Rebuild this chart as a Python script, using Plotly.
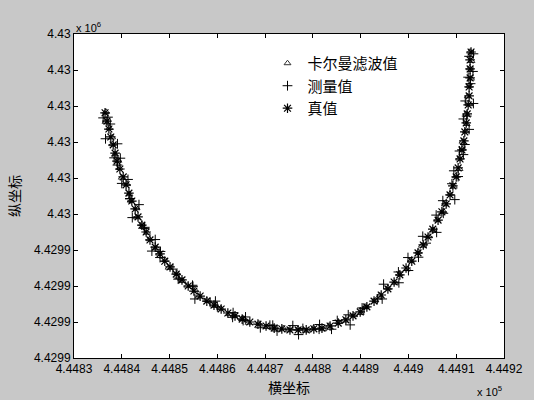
import plotly.graph_objects as go

# Truth values
true_x = [444836.5, 444836.9, 444837.3, 444837.7, 444838.2, 444838.6, 444839.0, 444839.6, 444840.3, 444840.9,
          444841.5, 444842.1, 444842.8, 444843.4, 444844.2, 444845.1, 444845.9, 444847.0, 444848.0, 444849.0,
          444850.1, 444851.4, 444852.6, 444853.9, 444855.1, 444856.4, 444857.8, 444859.3, 444860.8, 444862.2,
          444863.7, 444865.2, 444866.8, 444868.5, 444870.2, 444871.9, 444873.5, 444875.2, 444876.9, 444878.6,
          444880.2, 444881.9, 444883.6, 444885.3, 444886.9, 444888.4, 444889.9, 444891.3, 444892.8, 444894.3,
          444895.7, 444897.0, 444898.2, 444899.5, 444900.7, 444902.0, 444903.1, 444904.1, 444905.1, 444906.2,
          444907.0, 444907.9, 444908.7, 444909.3, 444910.0, 444910.4, 444910.8, 444911.2, 444911.6, 444911.8,
          444912.1, 444912.3, 444912.5, 444912.7, 444912.7, 444912.9, 444912.9, 444912.9, 444913.1]
true_y = [4429978.1, 4429975.8, 4429973.6, 4429971.4, 4429969.2, 4429966.9, 4429964.7, 4429962.5, 4429960.3, 4429958.1,
          4429955.8, 4429953.6, 4429951.4, 4429949.2, 4429946.9, 4429945.0, 4429942.8, 4429940.8, 4429938.9, 4429936.9,
          4429935.3, 4429933.3, 4429931.7, 4429930.0, 4429928.6, 4429927.2, 4429925.8, 4429924.7, 4429923.6, 4429922.5,
          4429921.7, 4429920.8, 4429920.0, 4429919.4, 4429918.9, 4429918.3, 4429918.1, 4429917.8, 4429917.8, 4429917.8,
          4429918.1, 4429918.3, 4429918.9, 4429919.7, 4429920.6, 4429921.7, 4429922.8, 4429924.2, 4429925.8, 4429927.5,
          4429929.2, 4429931.1, 4429933.1, 4429935.0, 4429936.9, 4429939.2, 4429941.4, 4429943.6, 4429945.8, 4429948.3,
          4429950.6, 4429952.8, 4429955.3, 4429957.8, 4429960.3, 4429962.8, 4429965.3, 4429967.8, 4429970.3, 4429972.8,
          4429975.3, 4429977.8, 4429980.3, 4429982.8, 4429985.3, 4429987.8, 4429990.3, 4429992.8, 4429995.0]

# Measured values
meas_x = [444837.1, 444836.1, 444837.6, 444836.6, 444839.1, 444838.4, 444839.7, 444839.1, 444841.3, 444840.0,
          444841.7, 444841.7, 444843.6, 444842.2, 444844.7, 444844.8, 444847.0, 444846.3, 444848.1, 444848.0,
          444850.7, 444851.8, 444852.0, 444854.8, 444854.9, 444855.3, 444858.5, 444859.6, 444860.0, 444863.2,
          444863.3, 444865.4, 444865.9, 444869.0, 444871.0, 444871.6, 444872.5, 444875.8, 444877.0, 444877.9,
          444881.3, 444881.4, 444883.9, 444885.1, 444887.8, 444887.4, 444890.3, 444890.7, 444893.5, 444894.5,
          444894.8, 444898.0, 444897.9, 444900.0, 444899.9, 444902.1, 444903.7, 444903.0, 444905.9, 444905.8,
          444907.3, 444907.2, 444909.7, 444909.1, 444910.4, 444909.5, 444911.5, 444910.7, 444911.8, 444912.7,
          444911.5, 444912.2, 444913.6, 444911.9, 444913.0, 444912.5, 444913.5, 444912.7, 444913.6]
meas_y = [4429976.9, 4429976.7, 4429975.0, 4429970.9, 4429969.5, 4429965.6, 4429965.5, 4429963.6, 4429959.6, 4429958.5,
          4429954.3, 4429954.2, 4429952.6, 4429949.0, 4429946.0, 4429946.3, 4429942.9, 4429939.7, 4429939.6, 4429937.9,
          4429934.7, 4429931.9, 4429932.2, 4429930.2, 4429929.9, 4429926.4, 4429925.5, 4429925.8, 4429924.2, 4429921.3,
          4429922.6, 4429920.4, 4429921.4, 4429918.4, 4429919.1, 4429919.1, 4429917.5, 4429919.0, 4429916.5, 4429918.2,
          4429918.0, 4429919.3, 4429918.0, 4429920.4, 4429919.2, 4429922.0, 4429923.9, 4429923.7, 4429926.4, 4429926.4,
          4429930.5, 4429930.9, 4429933.9, 4429934.3, 4429937.9, 4429938.0, 4429941.9, 4429943.8, 4429944.9, 4429949.7,
          4429950.2, 4429953.7, 4429954.0, 4429958.4, 4429960.4, 4429962.0, 4429966.5, 4429967.5, 4429969.3, 4429973.5,
          4429976.4, 4429977.2, 4429980.7, 4429981.4, 4429986.2, 4429988.0, 4429989.6, 4429993.8, 4429994.5]

# Kalman filter values
kal_x = [444836.7, 444836.6, 444837.4, 444838.0, 444838.0, 444838.6, 444839.3, 444839.5, 444840.0, 444841.1,
         444841.6, 444841.9, 444843.1, 444843.1, 444844.2, 444845.3, 444845.8, 444847.3, 444847.8, 444849.1,
         444849.8, 444851.6, 444852.7, 444853.7, 444855.4, 444856.1, 444857.8, 444859.5, 444860.7, 444862.5,
         444863.5, 444865.3, 444866.5, 444868.7, 444870.3, 444871.7, 444873.8, 444874.9, 444876.9, 444878.8,
         444880.1, 444882.2, 444883.4, 444885.4, 444886.6, 444888.6, 444890.0, 444891.1, 444893.1, 444894.0,
         444895.7, 444897.2, 444898.1, 444899.8, 444900.5, 444902.1, 444902.8, 444904.3, 444905.2, 444906.0,
         444907.3, 444907.6, 444908.7, 444909.5, 444909.9, 444910.7, 444910.6, 444911.3, 444911.3, 444912.0,
         444912.2, 444912.1, 444912.8, 444912.4, 444912.7, 444913.1, 444912.8, 444913.2, 444912.9]
kal_y = [4429978.4, 4429975.6, 4429973.9, 4429971.3, 4429969.4, 4429966.6, 4429964.8, 4429962.8, 4429960.1, 4429958.3,
         4429955.5, 4429953.7, 4429951.6, 4429949.1, 4429947.2, 4429944.8, 4429943.0, 4429940.5, 4429939.0, 4429937.2,
         4429935.1, 4429933.5, 4429931.4, 4429930.1, 4429928.8, 4429927.1, 4429926.1, 4429924.5, 4429923.8, 4429922.2,
         4429921.8, 4429921.1, 4429919.8, 4429919.6, 4429918.6, 4429918.4, 4429918.3, 4429917.7, 4429918.1, 4429917.6,
         4429918.3, 4429918.0, 4429919.0, 4429920.0, 4429920.4, 4429921.9, 4429922.5, 4429924.3, 4429926.0, 4429927.4,
         4429929.5, 4429930.9, 4429933.3, 4429934.7, 4429937.0, 4429939.5, 4429941.2, 4429943.8, 4429945.5, 4429948.4,
         4429950.8, 4429952.7, 4429955.6, 4429957.6, 4429960.5, 4429962.5, 4429965.4, 4429968.1, 4429970.1, 4429973.0,
         4429975.0, 4429977.9, 4429980.5, 4429982.7, 4429985.6, 4429987.6, 4429990.5, 4429992.5, 4429995.1]

x_ticks = [444830, 444840, 444850, 444860, 444870, 444880, 444890, 444900, 444910, 444920]
x_ticktext = ["4.4483", "4.4484", "4.4485", "4.4486", "4.4487", "4.4488", "4.4489", "4.449", "4.4491", "4.4492"]
y_ticks = [4429910, 4429920, 4429930, 4429940, 4429950, 4429960, 4429970, 4429980, 4429990, 4430000]
y_ticktext = ["4.4299", "4.4299", "4.4299", "4.4299", "4.43", "4.43", "4.43", "4.43", "4.43", "4.43"]

names = ["卡尔曼滤波值", "测量值", "真值"]

fig = go.Figure()
fig.add_trace(go.Scatter(x=kal_x, y=kal_y, mode="markers", name=names[0],
                         marker=dict(symbol="triangle-up-open", size=6, color="#333333",
                                     line=dict(width=1, color="#333333"))))
fig.add_trace(go.Scatter(x=meas_x, y=meas_y, mode="markers", name=names[1],
                         marker=dict(symbol="cross-thin-open", size=7, color="black",
                                     line=dict(width=1, color="black"))))
fig.add_trace(go.Scatter(x=true_x, y=true_y, mode="markers", name=names[2],
                         marker=dict(symbol="asterisk-open", size=8, color="black",
                                     line=dict(width=1.2, color="black"))))

axis_common = dict(showline=True, linecolor="black", linewidth=1, mirror="ticks",
                   ticks="inside", ticklen=4, tickcolor="black", showgrid=False,
                   zeroline=False, automargin=False,
                   tickfont=dict(family="Liberation Sans", size=12, color="black"))

fig.update_xaxes(range=[444830, 444920], tickvals=x_ticks, ticktext=x_ticktext, **axis_common)
fig.update_yaxes(range=[4429910, 4430000], tickvals=y_ticks, ticktext=y_ticktext, **axis_common)

# axis titles
fig.add_annotation(x=0.5, y=0, xref="paper", yref="paper", xanchor="center", yanchor="top",
                   text="横坐标", showarrow=False, yshift=-17,
                   font=dict(family="Noto Sans CJK SC", size=14, color="black"))
fig.add_annotation(x=0, y=0.5, xref="paper", yref="paper", xanchor="center", yanchor="middle",
                   text="纵坐标", showarrow=False, xshift=-60, textangle=-90,
                   font=dict(family="Noto Sans CJK SC", size=14, color="black"))

# exponent labels
fig.add_annotation(x=0, y=1, xref="paper", yref="paper", xanchor="left", yanchor="bottom",
                   text="x 10<sup>6</sup>", showarrow=False, yshift=-2,
                   font=dict(family="Liberation Sans", size=11, color="black"))
fig.add_annotation(x=1, y=0, xref="paper", yref="paper", xanchor="right", yanchor="top",
                   text="x 10<sup>5</sup>", showarrow=False, yshift=-24,
                   font=dict(family="Liberation Sans", size=11, color="black"))

fig.update_layout(
    width=534, height=400,
    margin=dict(l=74, r=30, t=34, b=42),
    paper_bgcolor="#c8c8c8", plot_bgcolor="white",
    showlegend=True,
    legend=dict(x=0.45, y=0.96, xanchor="left", yanchor="top", bgcolor="rgba(0,0,0,0)",
                font=dict(family="Noto Sans CJK SC", size=15, color="black"),
                tracegroupgap=0, itemwidth=30),
)

fig.write_html("out.html", config={"displayModeBar": False},
               post_script="document.body.style.margin='0';")
